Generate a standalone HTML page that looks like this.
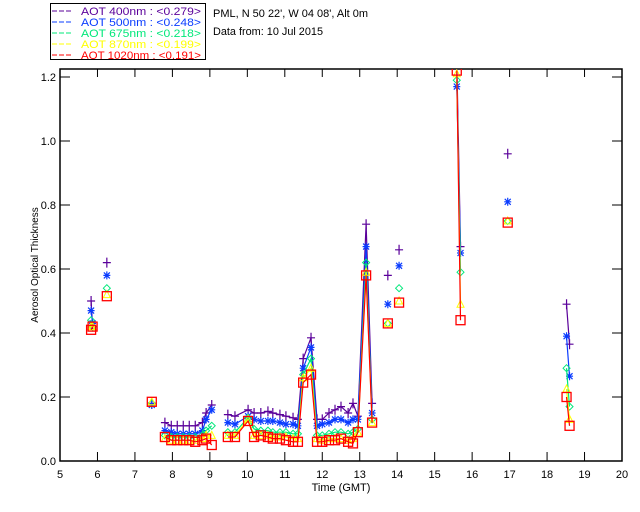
<!DOCTYPE html>
<html><head><meta charset="utf-8"><style>
body{margin:0;background:#fff}
svg{display:block;font-family:"Liberation Sans",sans-serif;font-size:11px}
</style></head><body>
<svg id="chart" width="640" height="512" viewBox="0 0 640 512">
<rect x="0" y="0" width="640" height="512" fill="#fff"/>
<g id="legend">
<rect x="50.5" y="3.5" width="155" height="56" fill="#fff" stroke="#000" stroke-width="1"/>
</g>
<text x="213" y="17" fill="#000" textLength="155" lengthAdjust="spacingAndGlyphs">PML, N 50 22', W 04 08', Alt 0m</text>
<text x="213" y="35" fill="#000" textLength="110" lengthAdjust="spacingAndGlyphs">Data from: 10 Jul 2015</text>
<g id="axes"></g>
<g id="plot"></g>
<text x="341" y="491" text-anchor="middle" fill="#000">Time (GMT)</text>
<text x="0" y="0" transform="translate(38,265) rotate(-90)" text-anchor="middle" fill="#000" font-size="10">Aerosol Optical Thickness</text>
</svg>
<script>
const xTicks=[5,6,7,8,9,10,11,12,13,14,15,16,17,18,19,20];
const yTicks=[0.0,0.2,0.4,0.6,0.8,1.0,1.2];
const yTickLabels=["0.0","0.2","0.4","0.6","0.8","1.0","1.2"];
const seriesNames=["AOT  400nm","AOT  500nm","AOT  675nm","AOT  870nm","AOT 1020nm"];
const seriesMeans=["<0.279>","<0.248>","<0.218>","<0.199>","<0.191>"];
const colors=["#5a009a","#0a3cff","#00e87a","#ffff00","#ff0000"];
const segs=[0,0,1,2,3,3,3,3,3,3,3,3,3,4,4,4,4,4,4,4,4,4,4,4,4,4,4,4,4,4,4,4,4,4,4,4,5,6,7,7,8,9,9];
const times=[5.83,5.87,6.25,7.45,7.8,7.97,8.13,8.29,8.45,8.61,8.8,8.9,9.05,
9.48,9.67,10.02,10.18,10.36,10.55,10.68,10.87,11.03,11.22,11.35,11.49,11.7,11.86,12.0,12.18,12.34,12.5,12.69,12.82,12.95,13.17,13.33,
13.75,14.05,15.59,15.69,16.95,18.52,18.6];
const aot400=[0.50,0.42,0.62,0.18,0.12,0.11,0.11,0.11,0.11,0.11,0.12,0.15,0.175,
0.145,0.14,0.16,0.15,0.15,0.155,0.15,0.145,0.14,0.135,0.13,0.32,0.385,0.13,0.13,0.15,0.16,0.17,0.15,0.18,0.14,0.74,0.18,
0.58,0.66,1.25,0.67,0.96,0.49,0.365];
const aot500=[0.47,0.43,0.58,0.175,0.095,0.09,0.085,0.085,0.085,0.085,0.095,0.13,0.16,
0.12,0.115,0.14,0.13,0.125,0.125,0.125,0.12,0.115,0.115,0.11,0.29,0.355,0.11,0.115,0.12,0.13,0.13,0.12,0.13,0.13,0.67,0.15,
0.49,0.61,1.17,0.65,0.81,0.39,0.265];
const aot675=[0.44,0.42,0.54,0.18,0.08,0.075,0.075,0.075,0.075,0.075,0.08,0.095,0.11,
0.09,0.09,0.135,0.1,0.095,0.095,0.09,0.09,0.09,0.085,0.085,0.27,0.32,0.08,0.08,0.085,0.09,0.09,0.085,0.09,0.1,0.62,0.13,
0.43,0.54,1.19,0.59,0.75,0.29,0.17];
const aot870=[0.42,0.42,0.52,0.185,0.07,0.065,0.065,0.065,0.065,0.065,0.07,0.08,0.08,
0.08,0.08,0.13,0.08,0.08,0.08,0.075,0.075,0.075,0.07,0.07,0.26,0.29,0.07,0.065,0.07,0.07,0.07,0.065,0.07,0.09,0.59,0.12,
0.43,0.50,1.21,0.49,0.75,0.225,0.13];
const aot1020=[0.41,0.42,0.515,0.185,0.075,0.065,0.065,0.065,0.065,0.06,0.065,0.07,0.05,
0.075,0.075,0.125,0.075,0.08,0.075,0.07,0.07,0.065,0.06,0.06,0.245,0.27,0.06,0.06,0.065,0.065,0.07,0.06,0.055,0.09,0.58,0.12,
0.43,0.495,1.22,0.44,0.745,0.20,0.11];
const allSeries=[aot400,aot500,aot675,aot870,aot1020];
const markers=["plus","star","diamond","triangle","square"];

const L=60,R=622,T=69,B=461;
const xS=t=>L+(t-5)/(20-5)*(R-L);
const yS=v=>B-(v/1.2)*(B-T-8);
const NS="http://www.w3.org/2000/svg";
function mk(tag,attrs,parent){const e=document.createElementNS(NS,tag);for(const k in attrs)e.setAttribute(k,attrs[k]);parent.appendChild(e);return e;}

const axes=document.getElementById('axes');
const frame=mk('rect',{x:L,y:T,width:R-L,height:B-T,fill:'none',stroke:'#000','stroke-width':1.5},axes);


xTicks.forEach(t=>{
  const x=xS(t);
  const tb=mk('line',{x1:x,y1:B,x2:x,y2:B-9,stroke:'#000','stroke-width':1},axes);
  
  
  const tt=mk('line',{x1:x,y1:T,x2:x,y2:T+8,stroke:'#000','stroke-width':1},axes);
  
  
  const lb=mk('text',{x:x,y:B+17,'text-anchor':'middle',fill:'#000'},axes);
  lb.textContent=String(t);
  
  
});
yTicks.forEach((v,i)=>{
  const y=yS(v);
  const tl=mk('line',{x1:L,y1:y,x2:L+10,y2:y,stroke:'#000','stroke-width':1},axes);
  
  
  const tr=mk('line',{x1:R,y1:y,x2:R-10,y2:y,stroke:'#000','stroke-width':1},axes);
  
  
  const lb=mk('text',{x:L-4,y:y+4,'text-anchor':'end',fill:'#000'},axes);
  lb.textContent=yTickLabels[i];
  
  
});

const plot=document.getElementById('plot');
const clip=mk('clipPath',{id:'clp'},mk('defs',{},plot));
mk('rect',{x:L,y:T,width:R-L,height:B-T},clip);
const pg=mk('g',{'clip-path':'url(#clp)'},plot);
function marker(type,x,y,c,g){
  let e;
  if(type==='plus'){e=mk('path',{d:`M${x-4},${y}H${x+4}M${x},${y-5}V${y+5}`,stroke:c,'stroke-width':1.2,fill:'none'},g);}
  else if(type==='star'){e=mk('path',{d:`M${x-3.5},${y}H${x+3.5}M${x},${y-4}V${y+4}M${x-3},${y-3}L${x+3},${y+3}M${x-3},${y+3}L${x+3},${y-3}`,stroke:c,'stroke-width':1.2,fill:'none'},g);}
  else if(type==='diamond'){e=mk('path',{d:`M${x},${y-3.5}L${x+3.5},${y}L${x},${y+3.5}L${x-3.5},${y}Z`,stroke:c,'stroke-width':1,fill:'none'},g);}
  else if(type==='triangle'){e=mk('path',{d:`M${x},${y-4}L${x+3.5},${y+3}L${x-3.5},${y+3}Z`,stroke:c,'stroke-width':1,fill:'none'},g);}
  else {e=mk('rect',{x:x-4.5,y:y-4.5,width:9,height:9,stroke:c,'stroke-width':1.3,fill:'none'},g);}
  
  
}
allSeries.forEach((vals,si)=>{
  const g=mk('g',{},pg);
  
  
  let d='';
  for(let i=0;i<times.length;i++){
    const cmd=(i>0&&segs[i]===segs[i-1])?'L':'M';
    d+=cmd+xS(times[i]).toFixed(1)+','+yS(vals[i]).toFixed(1);
  }
  const p=mk('path',{d:d,stroke:colors[si],'stroke-width':1.2,fill:'none'},g);
  
  
  for(let i=0;i<times.length;i++)marker(markers[si],xS(times[i]),yS(vals[i]),colors[si],g);
});

const lg=document.getElementById('legend');
seriesNames.forEach((n,i)=>{
  const y=15+i*11;
  const ln=mk('line',{x1:52,y1:y-4,x2:73,y2:y-4,stroke:colors[i],'stroke-width':1,'stroke-dasharray':'5,2'},lg);
  
  
  const t=mk('text',{x:81,y:y,fill:colors[i],'font-size':'11',textLength:'120',lengthAdjust:'spacingAndGlyphs','xml:space':'preserve'},lg);
  t.textContent=n+' : '+seriesMeans[i];
  
  
});
</script>
</body></html>
